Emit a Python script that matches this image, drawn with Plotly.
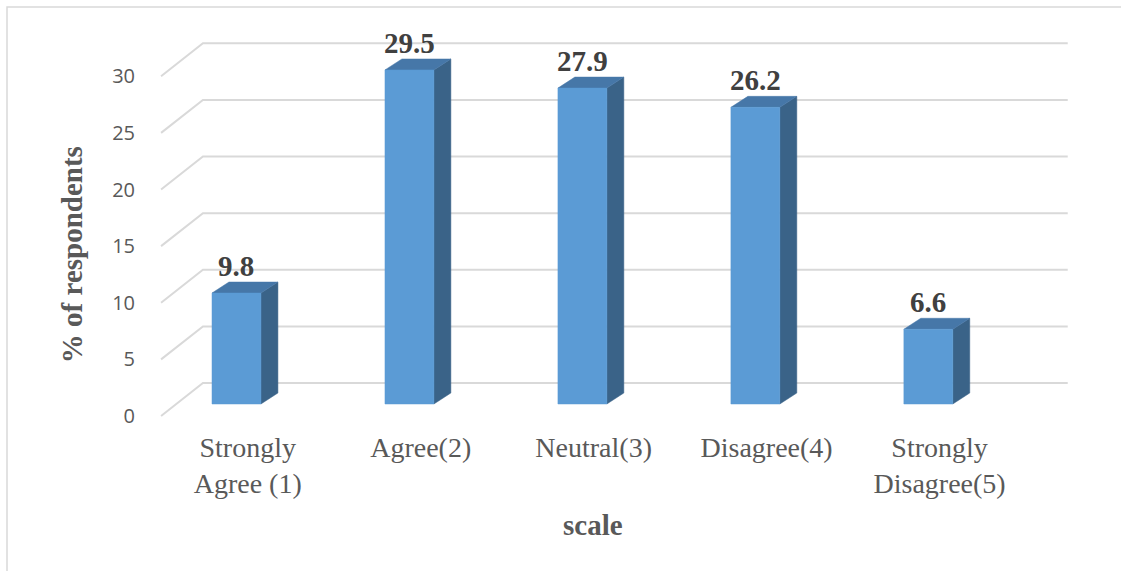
import plotly.graph_objects as go

# Survey responses by agreement scale
categories = ["Strongly<br>Agree (1)", "Agree(2)", "Neutral(3)", "Disagree(4)", "Strongly<br>Disagree(5)"]
values = [9.8, 29.5, 27.9, 26.2, 6.6]
y_ticks = [0, 5, 10, 15, 20, 25, 30]

# Pseudo-3D geometry (in axis units)
BAR_W = 0.283          # front face width
BAR_DX, BAR_DY = 0.098, 0.97     # bar depth offset
BACK_X0, BACK_X1, BACK_DY = -0.194, 4.806, 1.853   # back wall
FRONT_X0, FRONT_DY = -0.436, -1.059                 # front floor edge
LABEL_DX = 0.065

FRONT = "#5B9BD5"
TOP = "#4677A8"
SIDE = "#3A6388"
GRID = "#D9D9D9"

fig = go.Figure()

# Gridlines: floor diagonal + back wall line for each tick
gx, gy = [], []
for t in y_ticks:
    gx += [FRONT_X0, BACK_X0, BACK_X1, None]
    gy += [t + FRONT_DY, t + BACK_DY, t + BACK_DY, None]
fig.add_trace(go.Scatter(x=gx, y=gy, mode="lines", line=dict(color=GRID, width=2),
                         hoverinfo="skip", showlegend=False))

for i, v in enumerate(values):
    l, r = i - BAR_W / 2, i + BAR_W / 2
    # side face
    fig.add_trace(go.Scatter(
        x=[r, r + BAR_DX, r + BAR_DX, r, r],
        y=[0, BAR_DY, v + BAR_DY, v, 0],
        fill="toself", fillcolor=SIDE, mode="lines", line=dict(width=0.5, color=SIDE),
        hoverinfo="skip", showlegend=False))
    # top face
    fig.add_trace(go.Scatter(
        x=[l, r, r + BAR_DX, l + BAR_DX, l],
        y=[v, v, v + BAR_DY, v + BAR_DY, v],
        fill="toself", fillcolor=TOP, mode="lines", line=dict(width=0.5, color=TOP),
        hoverinfo="skip", showlegend=False))
    # front face
    fig.add_trace(go.Scatter(
        x=[l, r, r, l, l],
        y=[0, 0, v, v, 0],
        fill="toself", fillcolor=FRONT, mode="lines", line=dict(width=0.5, color=FRONT),
        hoverinfo="text", text=f"{v}", showlegend=False))
    fig.add_annotation(x=i, y=v + BAR_DY, text=f"<b>{v}</b>", showarrow=False,
                       yanchor="bottom", yshift=-2,
                       font=dict(family="Liberation Serif", size=29, color="#404040"))

fig.update_xaxes(range=[-0.5, 4.9], showgrid=False, zeroline=False, showline=False,
                 tickvals=[i + LABEL_DX for i in range(len(categories))],
                 ticktext=categories, ticks="", ticklabelstandoff=4,
                 tickfont=dict(family="Liberation Serif", size=28, color="#595959"))
fig.update_yaxes(range=[-1.767, 34], showgrid=False, zeroline=False, showline=False,
                 tickvals=[t + FRONT_DY for t in y_ticks],
                 ticktext=[str(t) for t in y_ticks],
                 ticks="outside", ticklen=10, tickcolor="rgba(0,0,0,0)",
                 tickfont=dict(family="Open Sans", size=20, color="#595959"))

fig.add_annotation(xref="paper", yref="paper", x=-0.0835, y=0.417,
                   xanchor="center", yanchor="middle",
                   text="<b>% of respondents</b>", textangle=-90, showarrow=False,
                   font=dict(family="Liberation Serif", size=29, color="#595959"))
fig.add_annotation(xref="paper", yref="paper", x=0.474, y=-0.249,
                   xanchor="center", yanchor="middle",
                   text="<b>scale</b>", showarrow=False,
                   font=dict(family="Liberation Serif", size=29, color="#595959"))

# Chart frame
fig.add_shape(type="rect", xref="paper", yref="paper", x0=-0.1531, x1=1.06,
              y0=-0.4, y1=1.0296, line=dict(color="#D9D9D9", width=1.5), layer="below")

fig.update_layout(width=1121, height=571, margin=dict(l=150, r=37, t=19, b=147),
                  plot_bgcolor="white", paper_bgcolor="white")

fig.write_html("out.html")
